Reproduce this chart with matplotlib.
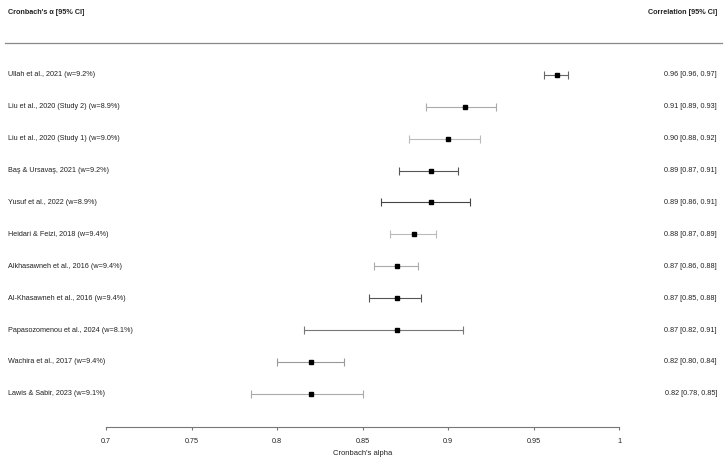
import matplotlib
matplotlib.use("Agg")
import matplotlib.pyplot as plt
from matplotlib.lines import Line2D
from matplotlib.transforms import blended_transform_factory

plt.rcParams["font.family"] = ["Liberation Sans", "DejaVu Sans"]

studies = [
    "Ullah et al., 2021 (w=9.2%)",
    "Liu et al., 2020 (Study 2) (w=8.9%)",
    "Liu et al., 2020 (Study 1) (w=9.0%)",
    "Baş & Ursavaş, 2021 (w=9.2%)",
    "Yusuf et al., 2022 (w=8.9%)",
    "Heidari & Feizi, 2018 (w=9.4%)",
    "Alkhasawneh et al., 2016 (w=9.4%)",
    "Al-Khasawneh et al., 2016 (w=9.4%)",
    "Papasozomenou et al., 2024 (w=8.1%)",
    "Wachira et al., 2017 (w=9.4%)",
    "Lawis & Sabir, 2023 (w=9.1%)",
]
alpha = [0.964, 0.910, 0.900, 0.890, 0.890, 0.880, 0.870, 0.870, 0.870, 0.820, 0.820]
ci_low = [0.956, 0.887, 0.877, 0.8715, 0.861, 0.866, 0.857, 0.854, 0.816, 0.800, 0.785]
ci_high = [0.970, 0.928, 0.9185, 0.906, 0.913, 0.893, 0.8825, 0.884, 0.909, 0.839, 0.850]
ci_text = [
    "0.96 [0.96, 0.97]",
    "0.91 [0.89, 0.93]",
    "0.90 [0.88, 0.92]",
    "0.89 [0.87, 0.91]",
    "0.89 [0.86, 0.91]",
    "0.88 [0.87, 0.89]",
    "0.87 [0.86, 0.88]",
    "0.87 [0.85, 0.88]",
    "0.87 [0.82, 0.91]",
    "0.82 [0.80, 0.84]",
    "0.82 [0.78, 0.85]",
]
line_colors = ["#666666", "#aaaaaa", "#bbbbbb", "#555555", "#444444", "#bbbbbb",
               "#aaaaaa", "#555555", "#777777", "#999999", "#aaaaaa"]
xticks = [0.7, 0.75, 0.8, 0.85, 0.9, 0.95, 1.0]
xtick_labels = ["0.7", "0.75", "0.8", "0.85", "0.9", "0.95", "1"]

W, H = 728, 467
fig = plt.figure(figsize=(W / 100, H / 100), dpi=100)
ax = fig.add_axes([106 / W, 1 - 426.7 / H, 513 / W, (426.7 - 43) / H])

n = len(studies)
for i in range(n):
    ax.errorbar(alpha[i], i,
                xerr=[[alpha[i] - ci_low[i]], [ci_high[i] - alpha[i]]],
                fmt="none", ecolor=line_colors[i], elinewidth=0.8,
                capsize=2.8, capthick=0.8)
    ax.plot(alpha[i], i, marker="s", color="black", markersize=3, linestyle="none")

ax.set_xlim(0.7, 1.0)
ax.set_ylim(n + 0.03, -1)
for s in ["top", "right", "left"]:
    ax.spines[s].set_visible(False)
ax.spines["bottom"].set_color("#777777")
ax.spines["bottom"].set_linewidth(0.8)
ax.set_yticks([])
ax.set_xticks(xticks)
ax.set_xticklabels(xtick_labels)
ax.tick_params(axis="x", direction="out", length=2.5, width=0.8, color="#777777",
               labelsize=5.2, pad=5.5, labelcolor="#222222")
ax.set_xlabel("Cronbach's alpha", fontsize=5.5, labelpad=4, color="#222222")

trans = blended_transform_factory(fig.transFigure, ax.transData)
for i in range(n):
    ax.text(8 / W, i, studies[i], transform=trans, ha="left", va="center",
            fontsize=5.2, color="#222222")
    ax.text(717 / W, i, ci_text[i], transform=trans, ha="right", va="center",
            fontsize=5.2, color="#222222")

fig.text(8 / W, 1 - 12 / H, "Cronbach's α [95% CI]", ha="left", va="center",
         fontsize=5.2, fontweight="bold", color="#222222")
fig.text(717 / W, 1 - 12 / H, "Correlation [95% CI]", ha="right", va="center",
         fontsize=5.2, fontweight="bold", color="#222222")
fig.add_artist(Line2D([5 / W, 722 / W], [1 - 43 / H, 1 - 43 / H],
                      transform=fig.transFigure, color="#888888", linewidth=0.9))

fig.savefig("out.png", dpi=100)
